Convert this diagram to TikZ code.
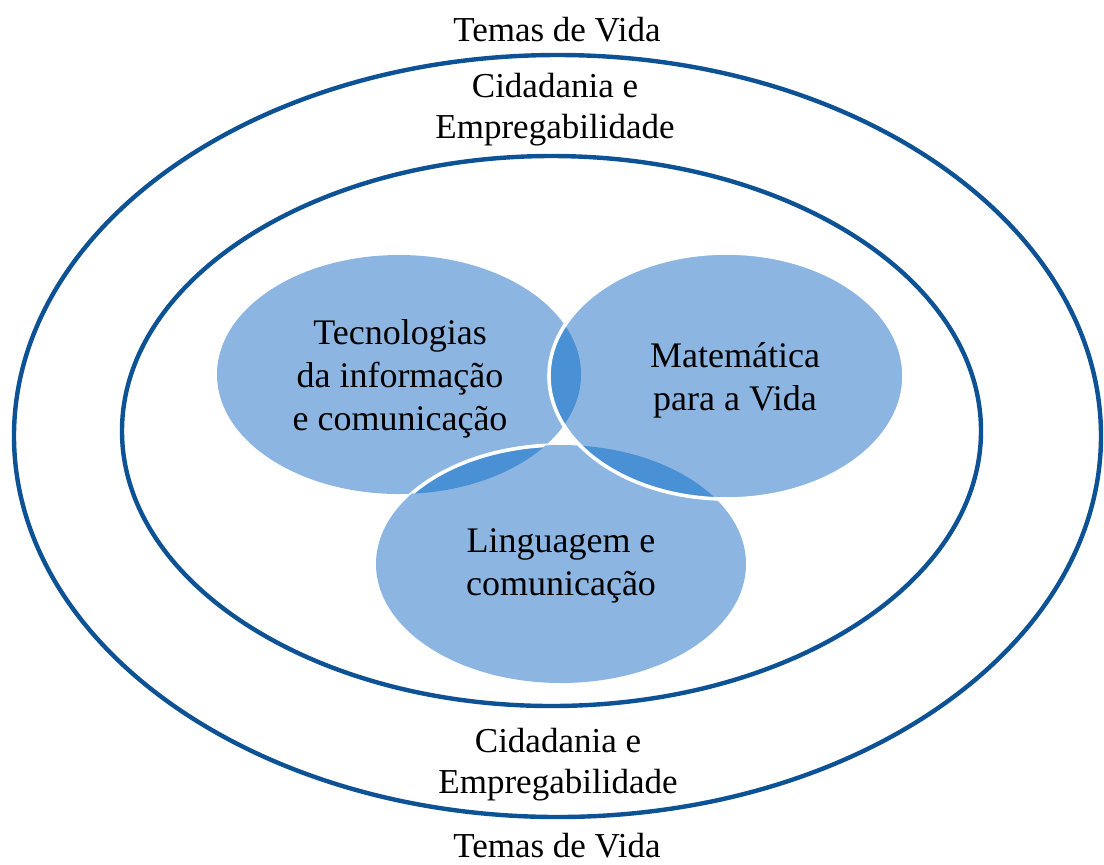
\documentclass[tikz,border=0pt]{standalone}
\usepackage{fontspec}
\setmainfont{Liberation Serif}
\usepackage{xcolor}
\usepackage{tikz}
\usetikzlibrary{arrows,shapes}

\definecolor{ringblue}{RGB}{12,82,148}
\definecolor{setblue}{RGB}{140,181,226}
\definecolor{lensblue}{RGB}{74,144,212}

\begin{document}
\begin{tikzpicture}[x=0.5pt, y=-0.5pt,
  ring/.style={draw=ringblue, line width=2.2pt},
  rim/.style={draw=white, line width=1.8pt},
  rimtext/.style={font=\fontsize{17.5}{20.5}\selectfont, align=center, anchor=base, inner sep=0pt},
  settext/.style={font=\fontsize{18}{21.5}\selectfont, align=center, anchor=base, inner sep=0pt}]
\useasboundingbox (0,0) rectangle (1104,864);
\def\techset{(399,374.5) ellipse [x radius=182, y radius=119.5]}
\def\mathset{(726.5,376) ellipse [x radius=177.5, y radius=123]}
\def\langset{(561,564) ellipse [x radius=185, y radius=119]}
% rings
\draw[ring] (557.5,436) ellipse [x radius=543.5, y radius=381];
\draw[ring] (551.5,431) ellipse [x radius=429.5, y radius=275];
% sets
\fill[setblue] \techset; \fill[setblue] \langset; \fill[setblue] \mathset;
\begin{scope} \clip \techset; \fill[lensblue] \langset; \fill[lensblue] \mathset; \end{scope}
\begin{scope} \clip \langset; \fill[lensblue] \mathset; \end{scope}
\begin{scope} \clip \techset; \draw[rim] \langset; \end{scope}
\draw[rim] \mathset;
% labels (base = last line)
\node[rimtext] (topvida) at (557,41) {Temas de Vida};
\node[rimtext] (topcid) at (555,138) {Cidadania e\\Empregabilidade};
\node[rimtext] (botcid) at (558,793) {Cidadania e\\Empregabilidade};
\node[rimtext] (botvida) at (557,857) {Temas de Vida};
\node[settext] (techtext) at (400,430) {Tecnologias\\da informação\\e comunicação};
\node[settext] (mathtext) at (735,410) {Matemática\\para a Vida};
\node[settext] (langtext) at (561,595) {Linguagem e\\comunicação};
\end{tikzpicture}
\end{document}
